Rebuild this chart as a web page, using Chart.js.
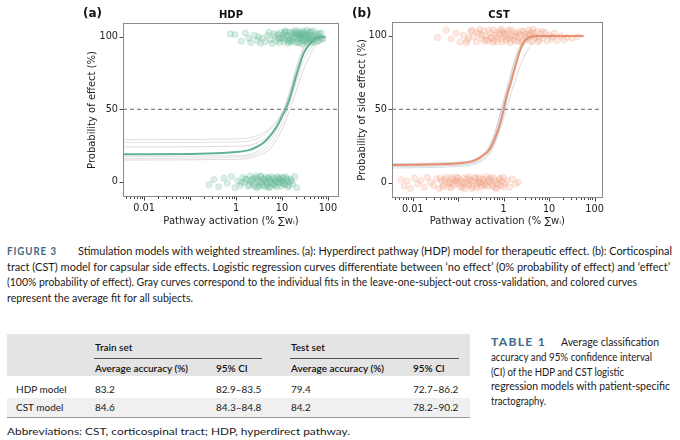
<!DOCTYPE html>
<html>
<head>
<meta charset="utf-8">
<script src="https://cdn.jsdelivr.net/npm/chart.js@4.4.1/dist/chart.umd.min.js"></script>
<style>
    body { margin: 0; width: 680px; height: 440px; overflow: hidden; position: relative; background: #fff; color: #1a1a1a; font-family: Lato, sans-serif; }
    canvas { position: absolute; top: 0; }
    .t { position: absolute; white-space: nowrap; font-size: 10px; line-height: 12px; transform-origin: left center; }
    .c { font-size: 10.6px; }
    .pl { position: absolute; font: bold 12px "DejaVu Sans"; line-height: 14px; color: #111; }
    .pt { position: absolute; font: bold 10px "DejaVu Sans"; line-height: 12px; text-align: center; color: #111; }
    .cap { color: #41698a; font-weight: bold; letter-spacing: 1.1px; }
    .hd { font-weight: 600; color: #111; }
    .box { position: absolute; }
</style>
</head>
<body>
<canvas id="hdpChart" width="263" height="232" style="left:82px"></canvas>
<canvas id="cstChart" width="258" height="232" style="left:352px"></canvas>

<div class="pl" style="left:83px;top:6px">(a)</div>
<div class="pt" style="left:123px;top:9px;width:216px">HDP</div>
<div class="pl" style="left:352px;top:6px">(b)</div>
<div class="pt" style="left:392px;top:9px;width:214px">CST</div>

<div class="t cap c" data-w="50" style="left:7px;top:245px">FIGURE 3</div>
<div class="t c" data-w="594" style="left:78px;top:245px">Stimulation models with weighted streamlines. (a): Hyperdirect pathway (HDP) model for therapeutic effect. (b): Corticospinal</div>
<div class="t c" data-w="663" style="left:7px;top:260.5px">tract (CST) model for capsular side effects. Logistic regression curves differentiate between ‘no effect’ (0% probability of effect) and ‘effect’</div>
<div class="t c" data-w="630" style="left:7px;top:276px">(100% probability of effect). Gray curves correspond to the individual fits in the leave-one-subject-out cross-validation, and colored curves</div>
<div class="t c" data-w="186" style="left:7px;top:291.5px">represent the average fit for all subjects.</div>

<div class="box" style="left:7px;top:334px;width:463px;height:42px;background:#e4e4e4"></div>
<div class="box" style="left:7px;top:398px;width:463px;height:19px;background:#f0f0f0"></div>
<div class="box" style="left:7px;top:417px;width:463px;height:1px;background:#9a9a9a"></div>
<div class="box" style="left:94px;top:358px;width:168px;height:1px;background:#555"></div>
<div class="box" style="left:290px;top:358px;width:169px;height:1px;background:#555"></div>
<div id="table"></div>
<div class="t" data-w="343" style="left:7px;top:425px">Abbreviations: CST, corticospinal tract; HDP, hyperdirect pathway.</div>

<div class="t cap c" data-w="55" style="left:491px;top:336px">TABLE 1</div>
<div class="t c" data-w="98" style="left:561px;top:336px">Average classification</div>
<div class="t c" data-w="161" style="left:491px;top:351px">accuracy and 95% confidence interval</div>
<div class="t c" data-w="133" style="left:491px;top:366px">(CI) of the HDP and CST logistic</div>
<div class="t c" data-w="179" style="left:491px;top:380px">regression models with patient-specific</div>
<div class="t c" data-w="55" style="left:491px;top:395px">tractography.</div>

<script>
// ---- data ----
const xTickValues = [0.01, 1, 10, 100];
const xTickLabels = ['0.01', '1', '10', '100'];
const yTickValues = [0, 50, 100];

// HDP: stimulation settings with effect (top) and without effect (bottom)
const hdpEffect = [
    [0.75,102],[0.95,101.5],[1.3,97],[1.6,102.5],[2.1,96],[2.5,101],[2.9,97.5],[3.4,95.5],[3.8,99],[4.3,96.5],
    [4.9,101],[5.6,98],[6.1,95.5],[6.8,102],[7.5,97],[8.2,101.5],[8.8,96],[9.3,103],[9.9,99],[10.5,101.5],
    [11,96.5],[11.8,102.5],[12.4,98],[13,100.5],[13.7,95.5],[14.5,103],[15.2,99],[16,96.5],[16.8,101.5],[17.5,97.5],
    [18.3,103.5],[19,100],[20,96],[21,102],[22,98.5],[23,101],[24,95.5],[25,103],[26,99.5],[27.5,97],
    [29,101.5],[30,104],[31.5,98],[33,100.5],[34.5,96],[36,102.5],[38,99],[40,103],[42,97],[44,101],
    [46,99.5],[48,104],[50,96.5],[53,102],[56,99],[60,101.5],[63,97.5],[67,100],[72,102.5],[78,98.5],
    [12,104],[20,104.5],[28,95],[35,104.5],[9,99.5],[15,97.5],[25,100.5],[45,95.5],
    [10.8,99],[11.5,103.5],[13.4,101],[14,97],[16.4,103],[17.9,99.5],[19.5,102],[21.5,96.5],[22.5,103.5],[23.5,99],
    [24.5,101.5],[26.5,102],[27,98.5],[28.5,103],[30.5,97],[32,102],[33.5,98],[35.5,100],[37,96.5],[39,101],
    [41,99],[43,103.5],[47,98],[52,100.5],[58,97],[65,102.5],[70,99],[8.5,98.5],[7,100.5],[5.2,103],[3.1,100],[1.9,99]
];
const hdpNoEffect = [
    [0.26,-2],[0.33,1.5],[0.42,-3.5],[0.55,2.5],[0.65,-1],[0.8,3.5],[0.95,-4],[1.1,0.5],[1.25,-2.5],[1.4,3],
    [1.55,-0.5],[1.7,1.5],[1.85,-3],[2,4],[2.2,0],[2.4,-1.5],[2.6,2.5],[2.8,-4],[3,1],[3.2,-2],
    [3.4,3.5],[3.6,-0.5],[3.9,2],[4.2,-3],[4.5,0.5],[4.8,-1.5],[5.1,3],[5.4,-3.5],[5.8,1.5],[6.2,-0.5],
    [6.6,2.5],[7,-2.5],[7.5,0],[8,3.5],[8.5,-1],[9,1.5],[9.6,-3],[10.2,0.5],[11,2.5],[11.8,-2],
    [12.6,1],[13.5,-3.5],[14.5,0],[15.5,2],[17,-1.5],[19,3.5],[21,-4],[2.3,2],[3.1,-3.5],[4.4,3],
    [5.6,0],[6.8,-1.5],[8.8,2],[1.3,-0.5],[2.7,4],[10.5,-1],[12,3.5],
    [1.6,2],[1.95,-2],[2.1,1],[2.5,-3],[2.9,2.5],[3.3,0],[3.7,-2.5],[4.1,1.5],[4.6,-1],[5,2],
    [5.3,-4],[6,3.5],[6.4,-2],[7.2,1],[7.8,-3.5],[8.3,2.5],[9.3,-0.5],[10,3],[11.4,-1.5],[13,2],
    [14,-2.5],[16,0.5],[3.5,4],[4.7,-3.5]
];
const hdpMeanFit = [
    [0.0035,19],[0.1,19.2],[0.5,19.8],[1,20.5],[2,22],[3,24.5],[4,27],[5,30],[7,36],[10,45],
    [12,50],[15,58],[20,72],[25,82],[30,89],[40,95],[50,98],[60,99.5],[88,100]
];
const hdpFoldFits = [
    [[0.0035,29],[1,29.5],[3,32],[6,38],[10,48],[15,62],[20,75],[30,90],[50,98],[88,100]],
    [[0.0035,27],[1,27.5],[3,30],[6,37],[10,47],[15,62],[20,76],[30,92],[50,99],[88,100]],
    [[0.0035,24],[1,24.5],[3,27],[6,34],[10,46],[15,63],[20,78],[30,93],[50,99],[88,100]],
    [[0.0035,17.5],[1,18],[3,21],[6,30],[10,44],[15,60],[20,74],[30,88],[50,97],[88,100]],
    [[0.0035,16],[1,17],[3,19.5],[6,27],[10,40],[15,55],[20,68],[30,84],[50,95],[88,99]],
    [[0.0035,15],[1,15.5],[3,18],[6,24],[10,36],[15,50],[20,62],[30,78],[50,92],[88,98]]
];

// CST: stimulation settings with side effect (top) and without (bottom)
const cstEffect = [
    [0.035,99],[0.055,104],[0.07,98],[0.09,102],[0.11,96],[0.13,100.5],[0.16,97],[0.19,103],[0.22,99.5],[0.25,96],
    [0.28,101.5],[0.32,98],[0.36,103.5],[0.4,100],[0.45,96.5],[0.5,102],[0.55,98.5],[0.6,104],[0.66,100.5],[0.72,96],
    [0.8,101],[0.88,98],[0.95,103],[1.05,99.5],[1.15,96.5],[1.25,102.5],[1.35,98.5],[1.5,104],[1.65,100],[1.8,96.5],
    [2,102],[2.2,99],[2.4,103.5],[2.6,97],[2.9,101],[3.2,98.5],[3.5,104],[3.8,100.5],[4.2,96],[4.6,102],
    [5,99],[5.5,103],[6,97.5],[6.7,101.5],[7.4,98.5],[8.2,102.5],[9,96.5],[10,100.5],[11.5,98],[13,102],
    [15,97],[18,100],[21,97.5],[25,99],[32,98.5],[42,99.5],[0.3,104.5],[0.42,97.5],[0.58,95.5],[0.9,104.5],
    [1.1,101],[1.4,95.5],[1.9,100],[2.5,95.5],[3.4,101.5],[4.4,104.5],[0.15,95.5],[0.2,104],
    [0.33,100.5],[0.38,96.5],[0.47,104],[0.52,99],[0.62,97],[0.69,102.5],[0.75,99],[0.84,103.5],[0.92,96],[1,101.5],
    [1.2,98],[1.3,104],[1.45,100],[1.6,97.5],[1.75,102.5],[2.1,96.5],[2.3,101],[2.7,103],[3,99.5],[3.6,97],
    [4,102.5],[4.8,100],[5.8,96],[7,103],[0.26,102.5],[0.17,99],[12,99.5]
];
const cstNoEffect = [
    [0.0055,2],[0.0065,-2.5],[0.0075,1],[0.009,-4],[0.011,3],[0.013,-1],[0.015,1.5],[0.018,-3],[0.021,3.5],[0.025,0],
    [0.029,-2],[0.033,2.5],[0.038,-4],[0.043,1],[0.048,-1.5],[0.054,3.5],[0.06,-3],[0.067,0.5],[0.075,2.5],[0.083,-2],
    [0.092,4],[0.1,-0.5],[0.11,1.5],[0.12,-3.5],[0.135,3],[0.15,0],[0.165,-2],[0.18,2],[0.2,-4],[0.22,1],
    [0.24,3.5],[0.26,-1.5],[0.29,0.5],[0.32,-3],[0.35,2.5],[0.38,-0.5],[0.42,4],[0.46,-2.5],[0.5,1],[0.55,-1],
    [0.6,3],[0.66,-3.5],[0.72,0],[0.8,2],[0.88,-2],[0.97,3.5],[1.07,-0.5],[1.2,1.5],[1.35,-3],[1.55,2.5],
    [1.8,-1],[2.1,0.5],[0.04,3],[0.07,-3.5],[0.13,-1],[0.17,4],[0.28,2],[0.4,-2],[0.52,3.5],[0.7,-4],
    [0.9,1],[0.058,0.5],[0.095,1.5],[0.31,0],
    [0.045,-3],[0.051,2],[0.063,-1],[0.071,3.5],[0.079,-0.5],[0.087,1],[0.1,3],[0.115,-2.5],[0.125,0.5],[0.14,-4],
    [0.155,2.5],[0.175,-1],[0.19,1],[0.21,-2.5],[0.23,3],[0.25,-3.5],[0.27,0],[0.3,3.5],[0.34,-1.5],[0.37,1.5],
    [0.44,0],[0.48,2.5],[0.58,-2.5],[0.63,1],[0.76,-1.5],[0.84,3],[1.0,-3]
];
const cstMeanFit = [
    [0.0035,12],[0.01,12.1],[0.05,12.6],[0.1,13.2],[0.2,14.5],[0.3,17],[0.5,23],[0.7,33],[0.85,41],[1,50],
    [1.2,60],[1.5,70],[2,84],[2.5,93],[3,97],[4,99.5],[6,100],[57,100]
];
const cstFoldFits = [
    [[0.0035,10],[0.1,11],[0.3,14],[0.5,20],[0.7,30],[1,47],[1.5,70],[2,85],[3,96],[5,99.5],[57,100]],
    [[0.0035,11],[0.1,12],[0.3,16],[0.5,24],[0.7,36],[0.9,50],[1.3,68],[2,88],[3,98],[5,100],[57,100]],
    [[0.0035,12.5],[0.1,13.5],[0.3,17],[0.5,25],[0.7,37],[0.9,49],[1.2,62],[2,85],[3,95],[6,99.5],[57,100]],
    [[0.0035,11.5],[0.1,12.3],[0.3,15],[0.5,21],[0.7,30],[1,44],[1.5,62],[2.5,82],[4,94],[8,99],[57,100]],
    [[0.0035,13],[0.1,14],[0.3,18],[0.5,26],[0.7,38],[0.9,51],[1.2,65],[1.8,85],[2.5,95],[4,99.5],[57,100]]
];

// Table 1
const tableCols = [16, 95, 216, 291, 413];
const tableHead = [['', 'Train set', '', 'Test set', ''],
                   ['', 'Average accuracy (%)', '95% CI', 'Average accuracy (%)', '95% CI']];
const tableRows = [['HDP model', '83.2', '82.9–83.5', '79.4', '72.7–86.2'],
                   ['CST model', '84.6', '84.3–84.8', '84.2', '78.2–90.2']];
const tableRowY = [347, 368, 389, 407];

// ---- table ----
var tbl = document.getElementById('table');
tableHead.concat(tableRows).forEach(function(row, r) {
    row.forEach(function(txt, c) {
        if (!txt) return;
        var d = document.createElement('div');
        d.className = 't' + (r < 2 ? ' hd' : '');
        d.style.left = tableCols[c] + 'px';
        d.style.top = (tableRowY[r] - 6) + 'px';
        d.textContent = txt;
        tbl.appendChild(d);
    });
});

// squeeze caption lines to the widths they have in the figure
document.querySelectorAll('[data-w]').forEach(function(el) {
    var w = +el.dataset.w;
    var actual = el.getBoundingClientRect().width;
    el.style.transform = 'scaleX(' + (w / actual).toFixed(4) + ')';
});

// ---- charts ----
const toXY = pts => pts.map(p => ({ x: p[0], y: p[1] }));

// frame on all four sides + matplotlib style outward ticks
const frameTicks = {
    id: 'frameTicks',
    afterDraw(chart) {
        const { ctx, chartArea: a, scales: { x, y } } = chart;
        ctx.save();
        ctx.lineWidth = 1;
        ctx.strokeStyle = '#444';
        x.ticks.forEach(t => {
            const px = Math.round(x.getPixelForValue(t.value)) + 0.5;
            const lg = Math.log10(t.value);
            const major = Math.abs(lg - Math.round(lg)) < 1e-6;
            ctx.beginPath();
            ctx.moveTo(px, a.bottom);
            ctx.lineTo(px, a.bottom + (major ? 3.5 : 2));
            ctx.stroke();
        });
        y.ticks.forEach(t => {
            const py = Math.round(y.getPixelForValue(t.value)) + 0.5;
            ctx.beginPath();
            ctx.moveTo(a.left, py);
            ctx.lineTo(a.left - 3.5, py);
            ctx.stroke();
        });
        ctx.strokeStyle = '#8a8a8a';
        ctx.strokeRect(Math.round(a.left) + 0.5, Math.round(a.top) + 0.5,
                       Math.round(a.width) - 1, Math.round(a.height) - 1);
        ctx.restore();
    }
};

function makeChart(id, o) {
    const datasets = [];
    o.folds.forEach((f, i) => {
        datasets.push({
            data: toXY(f), showLine: true, pointRadius: 0, borderWidth: 1,
            borderColor: o.foldColors[i % o.foldColors.length],
            cubicInterpolationMode: 'monotone', order: 5
        });
    });
    [o.effect, o.noEffect].forEach(pts => {
        datasets.push({
            data: toXY(pts), pointRadius: 3.1, borderWidth: 0.8,
            backgroundColor: o.dotFill, borderColor: o.dotEdge, order: 4
        });
    });
    datasets.push({
        data: toXY(o.mean), showLine: true, pointRadius: 0, borderWidth: 2,
        borderColor: o.lineColor, cubicInterpolationMode: 'monotone', order: 2
    });
    datasets.push({
        data: [{ x: o.xMin, y: 50 }, { x: o.xMax, y: 50 }], showLine: true, pointRadius: 0,
        borderWidth: 1, borderColor: '#666', borderDash: [4, 3], order: 3
    });

    const tickFont = { family: 'DejaVu Sans', size: 9.7 };
    return new Chart(document.getElementById(id), {
        type: 'scatter',
        data: { datasets },
        options: {
            responsive: false,
            animation: false,
            layout: { padding: { top: o.padTop, right: o.padRight, left: 0, bottom: 0 } },
            plugins: { legend: { display: false }, tooltip: { enabled: false } },
            scales: {
                x: {
                    type: 'logarithmic', min: o.xMin, max: o.xMax,
                    grid: { display: false, drawTicks: false }, border: { display: false },
                    afterBuildTicks(scale) {
                        const vals = [];
                        for (let e = -3; e <= 2; e++) {
                            for (let k = 1; k <= 9; k++) {
                                const v = k * Math.pow(10, e);
                                if (v >= o.xMin && v <= o.xMax) vals.push({ value: v });
                            }
                        }
                        scale.ticks = vals;
                    },
                    afterFit(scale) { scale.height = o.xAxisH; },
                    ticks: {
                        autoSkip: false, maxRotation: 0, padding: 6, color: '#222', font: tickFont,
                        callback(v) {
                            const i = xTickValues.findIndex(t => Math.abs(t - v) / t < 1e-6);
                            return i >= 0 ? xTickLabels[i] : '';
                        }
                    },
                    title: {
                        display: true, text: 'Pathway activation (% ∑wᵢ)', color: '#222',
                        font: { family: 'DejaVu Sans', size: 10 }, padding: { top: 0, bottom: 5 }
                    }
                },
                y: {
                    min: -10.5, max: 109.5,
                    grid: { display: false, drawTicks: false }, border: { display: false },
                    afterBuildTicks(scale) { scale.ticks = yTickValues.map(v => ({ value: v })); },
                    afterFit(scale) { scale.width = o.yAxisW; },
                    ticks: { padding: 5, color: '#222', font: tickFont },
                    title: {
                        display: true, text: o.yTitle, color: '#222',
                        font: { family: 'DejaVu Sans', size: 10 }, padding: { top: 4, bottom: 0 }
                    }
                }
            }
        },
        plugins: [frameTicks]
    });
}

makeChart('hdpChart', {
    effect: hdpEffect, noEffect: hdpNoEffect, mean: hdpMeanFit, folds: hdpFoldFits,
    foldColors: ['rgba(205,205,205,0.65)', 'rgba(210,210,210,0.65)', 'rgba(218,198,203,0.7)'],
    dotFill: 'rgba(95,184,147,0.22)', dotEdge: 'rgba(95,184,147,0.3)', lineColor: '#62b391',
    yTitle: 'Probability of effect (%)',
    xMin: 0.00349, xMax: 174, padTop: 23, padRight: 6, xAxisH: 35, yAxisW: 41
});
makeChart('cstChart', {
    effect: cstEffect, noEffect: cstNoEffect, mean: cstMeanFit, folds: cstFoldFits,
    foldColors: ['rgba(190,205,218,0.65)', 'rgba(200,200,205,0.65)'],
    dotFill: 'rgba(240,160,128,0.22)', dotEdge: 'rgba(240,160,128,0.3)', lineColor: '#e8906f',
    yTitle: 'Probability of side effect (%)',
    xMin: 0.00351, xMax: 151, padTop: 22, padRight: 4, xAxisH: 34, yAxisW: 40
});
</script>
</body>
</html>
